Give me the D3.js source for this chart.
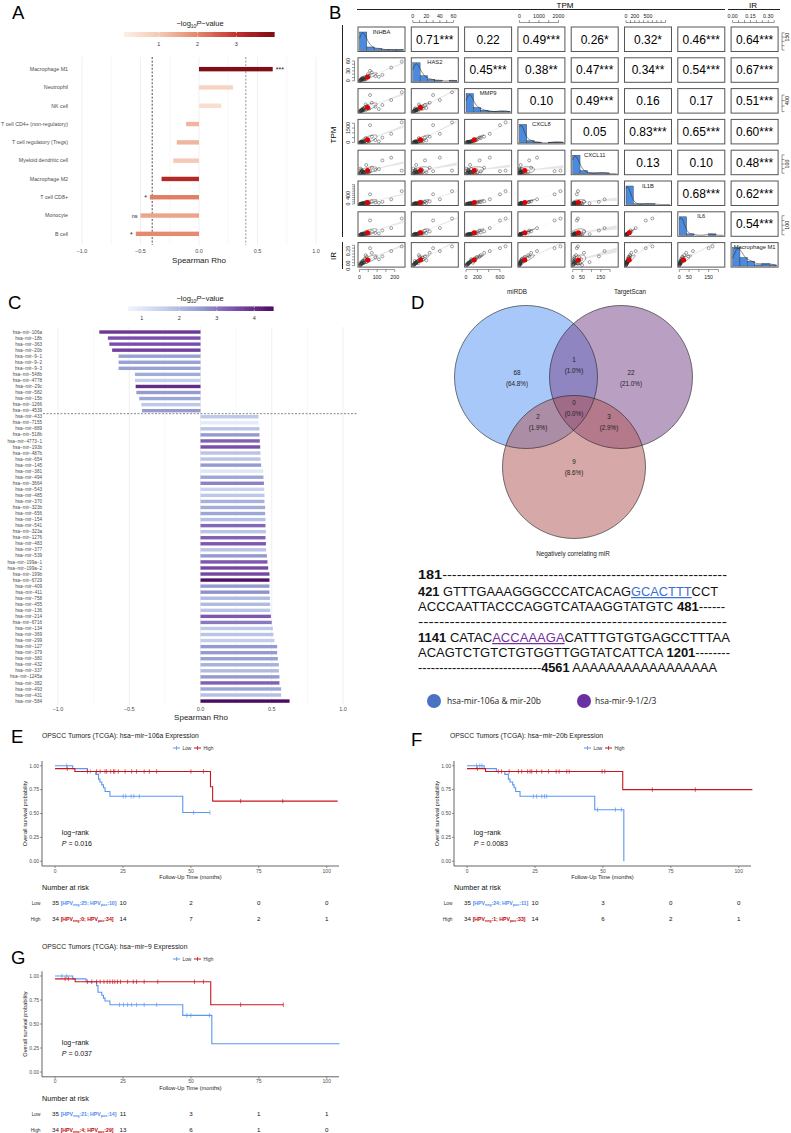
<!DOCTYPE html>
<html><head><meta charset="utf-8">
<script src="https://cdn.jsdelivr.net/npm/d3@7"></script>
<style>body{margin:0;background:#fff}svg{display:block}</style>
</head><body>
<script>
// ================= DATA =================
// Panel A
const cellTypesA = ["Macrophage M1","Neutrophil","NK cell","T cell CD4+ (non-regulatory)","T cell regulatory (Tregs)","Myeloid dendritic cell","Macrophage M2","T cell CD8+","Monocyte","B cell"];
const rhoA = [0.63,0.29,0.19,-0.11,-0.19,-0.22,-0.32,-0.42,-0.50,-0.54];
const logpA = [3.9,0.75,0.5,1.3,1.3,1.0,3.2,2.1,1.55,1.95];
const sigA = ["***","","","","","","","*","ns","*"];
const axisTicksA = [-1,-0.5,0,0.5,1];
const legendTicksA = [1,2,3];

// Panel B
const genesB = ["INHBA","HAS2","MMP9","CXCL8","CXCL11","IL1B","IL6","Macrophage M1"];
const corrRow1 = ["0.71***","0.22","0.49***","0.26*","0.32*","0.46***","0.64***"];
const corrRow2 = ["0.45***","0.38**","0.47***","0.34**","0.54***","0.67***"];
const corrRow3 = ["0.10","0.49***","0.16","0.17","0.51***"];
const corrRow4 = ["0.05","0.83***","0.65***","0.60***"];
const corrRow5 = ["0.13","0.10","0.48***"];
const corrRow6 = ["0.68***","0.62***"];
const corrRow7 = ["0.54***"];
const sINHBA = [6,12,4,20,9,15,30,8,25,14,40,18,10,55,22,35,5,48,16,28,70,12,90,38,60,130,25,180,110,240];
const sHAS2 = [2,5,1,8,3,4,12,2,6,3,10,7,4,15,5,9,1,20,6,3,25,8,14,5,30,18,4,40,12,58];
const sMMP9 = [20,60,15,90,30,40,150,25,70,45,200,80,35,110,50,260,10,130,55,95,320,40,180,70,600,240,120,420,90,700];
const sCXCL8 = [10,30,5,80,20,15,150,40,60,25,300,90,35,120,50,450,8,200,70,100,600,45,250,65,1800,500,140,900,110,2100];
const sCXCL11 = [3,10,2,15,6,25,8,4,12,30,9,5,40,14,7,18,50,11,20,6,60,16,35,90,22,140,13,170,45,28];
const sIL1B = [5,12,3,25,8,10,40,6,20,15,60,30,9,45,18,90,4,50,22,35,120,14,70,28,450,100,40,220,55,600];
const sIL6 = [1,3,1,6,2,4,10,2,5,3,15,8,3,12,4,25,1,18,6,9,35,5,20,7,150,45,11,70,14,170];
const sM1 = [0.02,0.05,0.01,0.08,0.03,0.04,0.12,0.02,0.06,0.03,0.15,0.07,0.04,0.10,0.05,0.18,0.01,0.09,0.06,0.08,0.22,0.04,0.14,0.06,0.30,0.16,0.05,0.25,0.11,0.33];
const domainsB = [[0,250],[0,65],[0,780],[0,2250],[0,235],[0,1000],[0,225],[0,0.37]];
const ticksB = [[0,50,100,150,200],[0,10,20,30,40,50,60],[0,200,400,600],[0,500,1000,1500,2000],[0,50,100,150,200],[0,100,200,300,400,500,600,700,800,900],[0,50,100,150,200],[0,0.05,0.1,0.15,0.2,0.25,0.3,0.35]];
const colLabelsB = [["0","100","200"],["0","20","40","60"],["0","200","600"],["0","1000","2000"],["0","50","150"],["0","200","500"],["0","50","150"],["0.00","0.15","0.30"]];
const rowLabelsB = [["150"],["0","30","60"],["400"],["0","1500"],["100"],["0","400"],["100"],["0.00","0.25"]];

// Panel C
const mirC = ["hsa-mir-106a","hsa-mir-18b","hsa-mir-363","hsa-mir-20b","hsa-mir-9-1","hsa-mir-9-2","hsa-mir-9-3","hsa-mir-548b","hsa-mir-4778","hsa-mir-29c","hsa-mir-582","hsa-mir-15b","hsa-mir-1266","hsa-mir-4539",
"hsa-mir-433","hsa-mir-7155","hsa-mir-889","hsa-mir-518b","hsa-mir-4773-1","hsa-mir-193b","hsa-mir-487b","hsa-mir-654","hsa-mir-145","hsa-mir-381",
"hsa-mir-494","hsa-mir-3664","hsa-mir-543","hsa-mir-485","hsa-mir-370","hsa-mir-323b","hsa-mir-656","hsa-mir-154","hsa-mir-541","hsa-mir-323a",
"hsa-mir-1276","hsa-mir-483","hsa-mir-377","hsa-mir-539","hsa-mir-199a-1","hsa-mir-199a-2","hsa-mir-199b","hsa-mir-6729","hsa-mir-409","hsa-mir-411",
"hsa-mir-758","hsa-mir-455","hsa-mir-136","hsa-mir-214","hsa-mir-6716","hsa-mir-134","hsa-mir-369","hsa-mir-299","hsa-mir-127","hsa-mir-379",
"hsa-mir-380","hsa-mir-432","hsa-mir-337","hsa-mir-1245a","hsa-mir-382","hsa-mir-493","hsa-mir-431","hsa-mir-584"];
const rhoC = [-0.71,-0.65,-0.64,-0.62,-0.575,-0.575,-0.575,-0.46,-0.46,-0.455,-0.45,-0.43,-0.415,-0.41,
0.407,0.407,0.414,0.414,0.416,0.419,0.421,0.421,0.426,0.44,
0.442,0.445,0.447,0.449,0.449,0.454,0.454,0.456,0.456,0.459,
0.456,0.459,0.461,0.466,0.47,0.475,0.484,0.484,0.484,0.484,
0.487,0.489,0.489,0.494,0.50,0.508,0.512,0.519,0.538,0.538,
0.543,0.55,0.55,0.554,0.554,0.566,0.566,0.625];
const logpC = [3.8,3.5,3.5,3.7,2.5,2.5,2.5,2.3,1.6,4.0,2.6,2.4,1.7,2.6,
1.7,0.9,1.8,2.6,3.3,3.5,1.8,1.8,2.6,1.0,
2.4,2.9,1.5,1.7,2.2,2.3,2.4,1.9,3.2,1.8,
3.3,3.4,1.8,2.6,3.4,3.6,3.6,4.4,2.6,2.7,
2.0,2.0,1.8,3.4,3.0,1.7,1.8,1.6,2.6,2.6,
2.5,2.2,2.0,2.6,3.3,2.4,1.9,4.5];
const legendTicksC = [1,2,3,4];

// Panel D
const vennSets = ["miRDB","TargetScan","Negatively correlating miR"];
const vennCounts = ["68","1","22","2","0","3","9"];
const vennPct = ["(64.8%)","(1.0%)","(21.0%)","(1.9%)","(0.0%)","(2.9%)","(8.6%)"];
const legendD = ["hsa-mir-106a & mir-20b","hsa-mir-9-1/2/3"];

// Panels E, F, G (Kaplan-Meier)
const kmTimeTicks = [0,25,50,75,100];
const kmSurvTicks = [0,0.25,0.5,0.75,1];
const eLowSteps = [[0,1],[6.5,0.97],[11.9,0.94],[15,0.91],[16,0.86],[16.5,0.83],[17.2,0.80],[17.8,0.77],[18.4,0.73],[20.2,0.68],[47,0.51]];
const eLowEnd = 57;
const eLowCens = [4.3,13,25.1,26,28,29,31,51,57];
const eHighSteps = [[0,0.97],[7.3,0.94],[57.2,0.78],[58,0.63]];
const eHighEnd = 104;
const eHighCens = [4.5,11.9,15.3,16.6,18.4,19,20.5,21.5,22,23.3,25.8,28.2,30,32.8,34.7,37.4,50,54.6,68.3,83.8];
const fLowSteps = [[0,1],[6.3,0.97],[10.8,0.94],[13.9,0.91],[15.2,0.86],[15.8,0.83],[16.8,0.80],[17.3,0.77],[17.9,0.73],[19.5,0.68],[47,0.54],[57.7,0]];
const fLowEnd = 57.7;
const fLowCens = [3.5,4.7,5.5,24.4,25.6,27.5,28.5,29.3,48,54.6,56.8];
const fHighSteps = [[0,0.97],[6.8,0.94],[57.3,0.75]];
const fHighEnd = 105;
const fHighCens = [3.8,11.5,12.7,15.5,18.9,20.1,22.3,23.2,23.8,25.6,27.5,30,32.8,33.9,36.7,37.6,49.7,50.7,68.2,84];
const gLowSteps = [[0,1],[6.5,0.97],[11.4,0.94],[15.3,0.90],[15.8,0.83],[17.2,0.80],[17.8,0.77],[18.4,0.74],[20.2,0.70],[47,0.59],[57.7,0.295]];
const gLowEnd = 104.7;
const gLowCens = [2.5,4.3,23.7,25.2,26.7,28.2,30,32.8,37.4,48.5,50,56.8];
const gHighSteps = [[0,0.97],[7.4,0.94],[57.3,0.70]];
const gHighEnd = 84;
const gHighCens = [3.7,4.9,11.9,13.5,15.3,16.6,18,19.2,20.2,21.2,22,23,24.1,26.7,28.8,30,32.8,37.8,51.3,54.6,68.3,84];
const eRiskLow = ["10","2","0","0"], eRiskHigh = ["14","7","2","1"];
const fRiskLow = ["10","3","0","0"], fRiskHigh = ["14","6","2","1"];
const gRiskLow = ["11","3","1","1"], gRiskHigh = ["13","6","1","0"];
const eHPVLow = ["35","25","10"], eHPVHigh = ["34","0","34"];
const fHPVLow = ["35","24","11"], fHPVHigh = ["34","1","33"];
const gHPVLow = ["35","21","14"], gHPVHigh = ["34","4","29"];

// ================= DRAWING =================
const FONT = "'Liberation Sans', Arial, Helvetica, sans-serif";
const svg = d3.select("body").append("svg").attr("width",791).attr("height",1133).attr("font-family",FONT);
svg.append("rect").attr("width",791).attr("height",1133).attr("fill","#fff");
const defs = svg.append("defs");
const mm = s => s.replace(/-/g,"\u2212");

function letter(t,x,y){
  svg.append("text").attr("x",x).attr("y",y).attr("font-family","'Liberation Sans', Arial, sans-serif")
    .attr("font-size",18.5).attr("fill","#000").text(t);
}
function log10Title(g,x,y,size){
  const t = g.append("text").attr("x",x).attr("y",y).attr("text-anchor","middle").attr("font-size",size).attr("fill","#222");
  t.append("tspan").text("\u2212log");
  t.append("tspan").attr("font-size",size*0.65).attr("dy",size*0.3).text("10");
  t.append("tspan").attr("font-style","italic").attr("dy",-size*0.3).text("P");
  t.append("tspan").text("\u2212value");
}
function colorbar(g,color,dom,x0,x1,y,h,ticks){
  const s = d3.scaleLinear().domain(dom).range([x0,x1]);
  const n = 80, step=(dom[1]-dom[0])/n;
  g.selectAll(null).data(d3.range(n)).join("rect")
    .attr("x",i=>s(dom[0]+i*step)).attr("y",y).attr("width",(x1-x0)/n+0.6).attr("height",h)
    .attr("fill",i=>color(dom[0]+(i+0.5)*step));
  g.selectAll(null).data(ticks).join("line").attr("x1",d=>s(d)).attr("x2",d=>s(d))
    .attr("y1",y).attr("y2",y+1.3).attr("stroke","#fff").attr("stroke-width",0.6);
  g.selectAll(null).data(ticks).join("line").attr("x1",d=>s(d)).attr("x2",d=>s(d))
    .attr("y1",y+h-1.3).attr("y2",y+h).attr("stroke","#fff").attr("stroke-width",0.6);
  g.selectAll(null).data(ticks).join("text").attr("x",d=>s(d)).attr("y",y+h+8.5)
    .attr("text-anchor","middle").attr("font-size",5.5).attr("fill","#333").text(d=>d);
}

// ---------- Panel A ----------
letter("A",12,19);
(function(){
  const g = svg.append("g");
  const x = d3.scaleLinear().domain([-1,1]).range([82,316]);
  const y = d3.scaleBand().domain(cellTypesA).range([60,243]);
  const col = d3.scaleLinear().domain([0.1,1,2,3,3.97]).range(["#fcefe8","#f5c9b4","#e4876a","#c2302d","#7d0a12"]);
  log10Title(g,200,26,7.5);
  colorbar(g,col,[0.1,3.97],124,274,32,5,legendTicksA);
  g.selectAll(null).data(d3.range(-1,1.001,0.25)).join("line")
    .attr("x1",d=>x(d)).attr("x2",d=>x(d)).attr("y1",57).attr("y2",245)
    .attr("stroke",(d,i)=>i%2?"#f2f2f2":"#e6e6e6").attr("stroke-width",0.6);
  [[-0.4,"#222"],[0.4,"#777"]].forEach(([v,c])=>{
    g.append("line").attr("x1",x(v)).attr("x2",x(v)).attr("y1",57).attr("y2",245)
      .attr("stroke",c).attr("stroke-width",0.8).attr("stroke-dasharray","2,1.6");
  });
  cellTypesA.forEach((c,i)=>{
    const yc = y(c)+y.bandwidth()/2, v=rhoA[i];
    g.append("rect").attr("x",Math.min(x(0),x(v))).attr("width",Math.abs(x(v)-x(0)))
      .attr("y",yc-2.2).attr("height",4.4).attr("fill",col(logpA[i]));
    g.append("text").attr("x",68).attr("y",yc+1.8).attr("text-anchor","end").attr("font-size",5.3).attr("fill","#4d4d4d").text(c);
    if(sigA[i]){
      const pos = v>0;
      g.append("text").attr("x",pos?x(v)+3:x(v)-3).attr("y",yc+(sigA[i]==="ns"?2:3.2))
        .attr("text-anchor",pos?"start":"end").attr("font-size",sigA[i]==="ns"?5.5:7).attr("fill","#222").text(sigA[i]);
    }
  });
  g.selectAll(null).data(axisTicksA).join("text").attr("x",d=>x(d)).attr("y",253)
    .attr("text-anchor","middle").attr("font-size",5.5).attr("fill","#4d4d4d").text(d=>mm(d3.format(".1f")(d)));
  g.append("text").attr("x",199).attr("y",263).attr("text-anchor","middle").attr("font-size",8).attr("fill","#222").text("Spearman Rho");
})();

// ---------- Panel B ----------
letter("B",329,19);
(function(){
  const g = svg.append("g");
  const samples = [sINHBA,sHAS2,sMMP9,sCXCL8,sCXCL11,sIL1B,sIL6,sM1];
  const corr = [corrRow1,corrRow2,corrRow3,corrRow4,corrRow5,corrRow6,corrRow7];
  const cw=47, ch=24.5;
  const colX = d3.range(8).map(j=>358+j*53.3);
  const rowY = d3.range(8).map(i=>27+i*30.8);
  const xs = d3.range(8).map(k=>d3.scaleLinear().domain(domainsB[k]).range([colX[k]+1.5,colX[k]+cw-1.5]));
  const ys = d3.range(8).map(k=>d3.scaleLinear().domain(domainsB[k]).range([rowY[k]+ch-1.5,rowY[k]+1.5]));
  // headers
  g.append("text").attr("x",565).attr("y",7.5).attr("text-anchor","middle").attr("font-size",8).text("TPM");
  g.append("line").attr("x1",357).attr("x2",725).attr("y1",9.5).attr("y2",9.5).attr("stroke","#222").attr("stroke-width",1);
  g.append("text").attr("x",753).attr("y",7.5).attr("text-anchor","middle").attr("font-size",8).text("IR");
  g.append("line").attr("x1",728).attr("x2",780).attr("y1",9.5).attr("y2",9.5).attr("stroke","#222").attr("stroke-width",1);
  g.append("line").attr("x1",342.5).attr("x2",342.5).attr("y1",25).attr("y2",237).attr("stroke","#222").attr("stroke-width",1);
  g.append("line").attr("x1",342.5).attr("x2",342.5).attr("y1",242).attr("y2",269).attr("stroke","#222").attr("stroke-width",1);
  g.append("text").attr("transform","translate(336,135) rotate(-90)").attr("text-anchor","middle").attr("font-size",8).text("TPM");
  g.append("text").attr("transform","translate(336,256) rotate(-90)").attr("text-anchor","middle").attr("font-size",8).text("IR");

  for(let i=0;i<8;i++){
    for(let j=0;j<8;j++){
      const cx=colX[j], cy=rowY[i];
      const cell = g.append("g");
      const clipId = "clip"+i+"_"+j;
      defs.append("clipPath").attr("id",clipId).append("rect").attr("x",cx).attr("y",cy).attr("width",cw).attr("height",ch);
      if(i===j){
        const data = samples[i], dom = domainsB[i];
        const bins = d3.bin().domain(dom).thresholds(d3.range(dom[0],dom[1],(dom[1]-dom[0])/6))(data);
        const hy = d3.scaleLinear().domain([0,d3.max(bins,b=>b.length)]).range([cy+ch-1,cy+5]);
        cell.selectAll(null).data(bins).join("rect")
          .attr("x",b=>xs[i](b.x0)).attr("width",b=>Math.max(0,xs[i](b.x1)-xs[i](b.x0)))
          .attr("y",b=>hy(b.length)).attr("height",b=>cy+ch-1-hy(b.length))
          .attr("fill","#4a8be0").attr("stroke","#333").attr("stroke-width",0.4);
        const bw = (dom[1]-dom[0])/14;
        const grid = d3.range(dom[0],dom[1]+1e-9,(dom[1]-dom[0])/60);
        const dens = grid.map(v=>[v,d3.mean(data,d=>Math.exp(-0.5*((v-d)/bw)**2))]);
        const dmax = d3.max(dens,d=>d[1]);
        const dy = d3.scaleLinear().domain([0,dmax]).range([cy+ch-1,cy+6]);
        cell.append("path").attr("d",d3.line().x(d=>xs[i](d[0])).y(d=>dy(d[1]))(dens))
          .attr("fill","none").attr("stroke","#222").attr("stroke-width",0.5).attr("clip-path","url(#"+clipId+")");
        cell.append("text").attr("x",cx+cw/2).attr("y",cy+6.5).attr("text-anchor","middle").attr("font-size",5.8).attr("fill","#222").text(genesB[i]);
      } else if(j>i){
        cell.append("text").attr("x",cx+cw/2).attr("y",cy+ch/2+4.3).attr("text-anchor","middle")
          .attr("font-size",12).attr("fill","#000").text(corr[i][j-i-1]);
      } else {
        const xd = samples[j], yd = samples[i];
        const pts = xd.map((v,k)=>[v,yd[k]]);
        const inner = cell.append("g").attr("clip-path","url(#"+clipId+")");
        const mx=d3.mean(xd), my=d3.mean(yd), sx=d3.deviation(xd), sy=d3.deviation(yd);
        const r = d3.sum(pts,p=>(p[0]-mx)*(p[1]-my))/((xd.length-1)*sx*sy);
        const slope = r*sy/sx, icpt = my-slope*mx;
        const se = sy*Math.sqrt(1-r*r)/Math.sqrt(xd.length)*0.6;
        const gx = d3.range(domainsB[j][0],domainsB[j][1]*1.001,(domainsB[j][1]-domainsB[j][0])/30);
        const band = gx.map(v=>{const w=se*Math.sqrt(1+((v-mx)/sx)**2);return [v,icpt+slope*v-w,icpt+slope*v+w];});
        inner.append("path").attr("d",d3.area().x(d=>xs[j](d[0])).y0(d=>ys[i](d[1])).y1(d=>ys[i](d[2]))(band))
          .attr("fill","#d6d6d6").attr("opacity",0.6);
        inner.selectAll(null).data(pts).join("circle").attr("cx",p=>xs[j](p[0])).attr("cy",p=>ys[i](p[1]))
          .attr("r",1.5).attr("fill","none").attr("stroke","#333").attr("stroke-width",0.45);
        const ell = d3.range(0,2*Math.PI+0.01,Math.PI/30).map(t=>[mx+sx*Math.cos(t),my+sy*Math.cos(t+Math.acos(Math.max(-1,Math.min(1,r))))]);
        inner.append("path").attr("d",d3.line().x(d=>xs[j](d[0])).y(d=>ys[i](d[1])).curve(d3.curveLinearClosed)(ell))
          .attr("fill","none").attr("stroke","#333").attr("stroke-width",0.45);
        inner.append("path").attr("d",d3.line().x(d=>xs[j](d[0])).y(d=>ys[i](icpt+slope*d[0]))(gx))
          .attr("fill","none").attr("stroke","#e0453e").attr("stroke-width",0.7);
        inner.append("circle").attr("cx",xs[j](mx)).attr("cy",ys[i](my)).attr("r",2.5).attr("fill","#e00000");
      }
      cell.append("rect").attr("x",cx).attr("y",cy).attr("width",cw).attr("height",ch)
        .attr("fill","none").attr("stroke","#555").attr("stroke-width",1);
    }
  }
  for(let k=0;k<8;k++){
    const tk = ticksB[k];
    if(k%2===1){
      const yA=22.5;
      g.append("line").attr("x1",xs[k](tk[0])).attr("x2",xs[k](tk[tk.length-1])).attr("y1",yA).attr("y2",yA).attr("stroke","#333").attr("stroke-width",0.5);
      g.selectAll(null).data(tk).join("line").attr("x1",d=>xs[k](d)).attr("x2",d=>xs[k](d)).attr("y1",yA).attr("y2",yA-2.5).attr("stroke","#333").attr("stroke-width",0.5);
      g.selectAll(null).data(colLabelsB[k]).join("text").attr("x",d=>xs[k](+d)).attr("y",18).attr("text-anchor","middle").attr("font-size",5.3).attr("fill","#222").text(d=>d);
    } else {
      const yA=269.5;
      g.append("line").attr("x1",xs[k](tk[0])).attr("x2",xs[k](tk[tk.length-1])).attr("y1",yA).attr("y2",yA).attr("stroke","#333").attr("stroke-width",0.5);
      g.selectAll(null).data(tk).join("line").attr("x1",d=>xs[k](d)).attr("x2",d=>xs[k](d)).attr("y1",yA).attr("y2",yA+2.5).attr("stroke","#333").attr("stroke-width",0.5);
      g.selectAll(null).data(colLabelsB[k]).join("text").attr("x",d=>xs[k](+d)).attr("y",279).attr("text-anchor","middle").attr("font-size",5.3).attr("fill","#222").text(d=>d);
    }
    if(k%2===0){
      const xA=782;
      g.append("line").attr("x1",xA).attr("x2",xA).attr("y1",ys[k](tk[0])).attr("y2",ys[k](tk[tk.length-1])).attr("stroke","#333").attr("stroke-width",0.5);
      g.selectAll(null).data(tk).join("line").attr("y1",d=>ys[k](d)).attr("y2",d=>ys[k](d)).attr("x1",xA).attr("x2",xA+2.5).attr("stroke","#333").attr("stroke-width",0.5);
      g.selectAll(null).data(rowLabelsB[k]).join("text").attr("transform",d=>"translate(789,"+ys[k](+d)+") rotate(-90)").attr("text-anchor","middle").attr("font-size",5.3).attr("fill","#222").text(d=>d);
    } else {
      const xA=354.5;
      g.append("line").attr("x1",xA).attr("x2",xA).attr("y1",ys[k](tk[0])).attr("y2",ys[k](tk[tk.length-1])).attr("stroke","#333").attr("stroke-width",0.5);
      g.selectAll(null).data(tk).join("line").attr("y1",d=>ys[k](d)).attr("y2",d=>ys[k](d)).attr("x1",xA).attr("x2",xA-2.5).attr("stroke","#333").attr("stroke-width",0.5);
      g.selectAll(null).data(rowLabelsB[k]).join("text").attr("transform",d=>"translate(350,"+ys[k](+d)+") rotate(-90)").attr("text-anchor","middle").attr("font-size",5.3).attr("fill","#222").text(d=>d);
    }
  }
})();

// ---------- Panel C ----------
letter("C",8,309);
(function(){
  const g = svg.append("g");
  const x = d3.scaleLinear().domain([-1,1]).range([58,343]);
  const y = d3.scaleBand().domain(mirC).range([329,704.1]);
  const col = d3.scaleLinear().domain([0.63,1.5,2.5,3.5,4.5]).range(["#f1f4fb","#c8d3ee","#98a2d4","#7a4fac","#4c0a60"]);
  log10Title(g,200,301,7.5);
  colorbar(g,col,[0.63,4.5],128,273,306.5,4.5,legendTicksC);
  g.selectAll(null).data(d3.range(-1,1.001,0.25)).join("line")
    .attr("x1",d=>x(d)).attr("x2",d=>x(d)).attr("y1",327).attr("y2",705)
    .attr("stroke",(d,i)=>i%2?"#f2f2f2":"#e6e6e6").attr("stroke-width",0.6);
  mirC.forEach((m,i)=>{
    const yc=y(m)+y.bandwidth()/2, v=rhoC[i];
    g.append("rect").attr("x",Math.min(x(0),x(v))).attr("width",Math.abs(x(v)-x(0)))
      .attr("y",yc-1.7).attr("height",3.4).attr("fill",col(logpC[i]));
    g.append("text").attr("x",42).attr("y",yc+1.6).attr("text-anchor","end").attr("font-size",4.6).attr("fill","#4d4d4d").text(mm(m));
  });
  const ySplit = y(mirC[14]);
  g.append("line").attr("x1",43).attr("x2",358).attr("y1",ySplit).attr("y2",ySplit)
    .attr("stroke","#555").attr("stroke-width",0.7).attr("stroke-dasharray","2,1.5");
  g.selectAll(null).data(axisTicksA).join("text").attr("x",d=>x(d)).attr("y",711)
    .attr("text-anchor","middle").attr("font-size",5.5).attr("fill","#4d4d4d").text(d=>mm(d3.format(".1f")(d)));
  g.append("text").attr("x",201).attr("y",719.5).attr("text-anchor","middle").attr("font-size",8).attr("fill","#222").text("Spearman Rho");
})();

// ---------- Panel D ----------
letter("D",411,309);
(function(){
  const g = svg.append("g");
  const circ = [[526,377,"#5191f5"],[621,377,"#734187"],[574,467,"#af5151"]];
  g.selectAll(null).data(circ).join("circle").attr("cx",d=>d[0]).attr("cy",d=>d[1]).attr("r",71.5)
    .attr("fill",d=>d[2]).attr("fill-opacity",0.5);
  g.selectAll(null).data(circ).join("circle").attr("cx",d=>d[0]).attr("cy",d=>d[1]).attr("r",71.5)
    .attr("fill","none").attr("stroke","#222").attr("stroke-width",0.6);
  const lblPos = [[517,373],[574,360],[631,373],[538,417],[574,403],[609,417],[574,462]];
  vennCounts.forEach((c,i)=>{
    g.append("text").attr("x",lblPos[i][0]).attr("y",lblPos[i][1]+2).attr("text-anchor","middle").attr("font-size",6.3).attr("fill","#222").text(c);
    g.append("text").attr("x",lblPos[i][0]).attr("y",lblPos[i][1]+13).attr("text-anchor","middle").attr("font-size",6.3).attr("fill","#222").text(vennPct[i]);
  });
  const setPos = [[517,294],[630,294],[573,556]];
  vennSets.forEach((s,i)=>g.append("text").attr("x",setPos[i][0]).attr("y",setPos[i][1]).attr("text-anchor","middle").attr("font-size",6.3).attr("fill","#222").text(s));

  const lines = [
    {y:579, w:309, parts:[["181",1],["-----------------------------------------------------------",0]]},
    {y:596, w:300, parts:[["421",1],[" GTTTGAAAGGGCCCATCACAG",0],["GCACTTT",2],["CCT",0]]},
    {y:611, w:307, parts:[["ACCCAATTACCCAGGTCATAAGGTATGTC ",0],["481",1],["------",0]]},
    {y:626, w:309, parts:[["-----------------------------------------------------------",0]]},
    {y:642, w:312, parts:[["1141",1],[" CATAC",0],["ACCAAAGA",3],["CATTTGTGTGAGCCTTTAA",0]]},
    {y:657, w:312, parts:[["ACAGTCTGTCTGTGGTTGGTATCATTCA ",0],["1201",1],["--------",0]]},
    {y:672, w:299, parts:[["-----------------------------",0],["4561",1],[" AAAAAAAAAAAAAAAAA",0]]}
  ];
  lines.forEach(L=>{
    const t = g.append("text").attr("x",418).attr("y",L.y).attr("font-size",12.5).attr("fill","#111")
      .attr("textLength",L.w).attr("lengthAdjust","spacingAndGlyphs");
    L.parts.forEach(([s,k])=>{
      const sp = t.append("tspan").text(s);
      if(k===1) sp.attr("font-weight","bold");
      if(k===2) sp.attr("fill","#3b6fd2").attr("text-decoration","underline");
      if(k===3) sp.attr("fill","#7030a0").attr("text-decoration","underline");
    });
  });
  g.append("circle").attr("cx",434).attr("cy",701).attr("r",7).attr("fill","#4a72c4");
  g.append("text").attr("x",447).attr("y",704).attr("font-size",8.5).attr("font-family","'Open Sans', sans-serif").attr("fill","#222").text(legendD[0]);
  g.append("circle").attr("cx",584).attr("cy",701).attr("r",7).attr("fill","#6a2fa0");
  g.append("text").attr("x",595).attr("y",704).attr("font-size",8.5).attr("font-family","'Open Sans', sans-serif").attr("fill","#222").text(legendD[1]);
})();

// ---------- KM panels ----------
const BLUE="#5a97f2", RED="#c7161e";
function kmPanel(o){
  const g = svg.append("g");
  const x = d3.scaleLinear().domain([-4.8,104.5]).range([o.xl,o.xr]);
  const y = d3.scaleLinear().domain([-0.05,1.05]).range([o.yb,o.yt]);
  g.append("text").attr("x",o.titleX).attr("y",o.titleY).attr("font-size",6.8).attr("fill","#222").text(o.title);
  const lx = o.legX, ly = o.legY;
  [[BLUE,"Low",0],[RED,"High",21]].forEach(([c,t,dx])=>{
    g.append("line").attr("x1",lx+dx).attr("x2",lx+dx+7).attr("y1",ly).attr("y2",ly).attr("stroke",c).attr("stroke-width",1);
    g.append("line").attr("x1",lx+dx+3.5).attr("x2",lx+dx+3.5).attr("y1",ly-2).attr("y2",ly+2).attr("stroke",c).attr("stroke-width",0.8);
    g.append("text").attr("x",lx+dx+9.5).attr("y",ly+1.7).attr("font-size",4.8).attr("fill","#333").text(t);
  });
  g.append("line").attr("x1",o.xl).attr("x2",o.xl).attr("y1",o.yt).attr("y2",o.yb).attr("stroke","#222").attr("stroke-width",0.7);
  g.append("line").attr("x1",o.xl).attr("x2",o.xr).attr("y1",o.yb).attr("y2",o.yb).attr("stroke","#222").attr("stroke-width",0.7);
  g.selectAll(null).data(kmSurvTicks).join("line").attr("x1",o.xl-2).attr("x2",o.xl).attr("y1",d=>y(d)).attr("y2",d=>y(d)).attr("stroke","#333").attr("stroke-width",0.5);
  g.selectAll(null).data(kmSurvTicks).join("text").attr("x",o.xl-3).attr("y",d=>y(d)+1.8).attr("text-anchor","end").attr("font-size",5).attr("fill","#4d4d4d").text(d=>d3.format(".2f")(d));
  g.selectAll(null).data(kmTimeTicks).join("line").attr("x1",d=>x(d)).attr("x2",d=>x(d)).attr("y1",o.yb).attr("y2",o.yb+2).attr("stroke","#333").attr("stroke-width",0.5);
  g.selectAll(null).data(kmTimeTicks).join("text").attr("x",d=>x(d)).attr("y",o.yb+6.5).attr("text-anchor","middle").attr("font-size",5).attr("fill","#4d4d4d").text(d=>d);
  g.append("text").attr("x",(o.xl+o.xr)/2).attr("y",o.yb+13).attr("text-anchor","middle").attr("font-size",5.6).attr("fill","#222").text("Follow-Up Time (months)");
  g.append("text").attr("transform","translate("+(o.xl-15.5)+","+((o.yt+o.yb)/2)+") rotate(-90)").attr("text-anchor","middle").attr("font-size",5.6).attr("fill","#222").text("Overall survival probability");
  function curve(steps,end,cens,c){
    const pts=[[steps[0][0],steps[0][1]]];
    for(let k=1;k<steps.length;k++){pts.push([steps[k][0],steps[k-1][1]]);pts.push([steps[k][0],steps[k][1]]);}
    pts.push([end,steps[steps.length-1][1]]);
    g.append("path").attr("d",d3.line().x(d=>x(d[0])).y(d=>y(d[1]))(pts)).attr("fill","none").attr("stroke",c).attr("stroke-width",1.1);
    const sAt = t=>{let s=steps[0][1];steps.forEach(st=>{if(st[0]<=t)s=st[1];});return s;};
    g.selectAll(null).data(cens).join("line").attr("x1",d=>x(d)).attr("x2",d=>x(d))
      .attr("y1",d=>y(sAt(d))-2.2).attr("y2",d=>y(sAt(d))+2.2).attr("stroke",c).attr("stroke-width",0.7);
  }
  curve(o.lowSteps,o.lowEnd,o.lowCens,BLUE);
  curve(o.highSteps,o.highEnd,o.highCens,RED);
  g.append("text").attr("x",x(2.5)).attr("y",o.lrY).attr("font-size",7).attr("fill","#111").text("log\u2212rank");
  const p = g.append("text").attr("x",x(2.5)).attr("y",o.lrY+11).attr("font-size",7).attr("fill","#111");
  p.append("tspan").attr("font-style","italic").text("P");
  p.append("tspan").text(" = "+o.pval);
  g.append("text").attr("x",o.xl).attr("y",o.riskY).attr("font-size",7.2).attr("fill","#111").text("Number at risk");
  [[o.riskY+15.5,"Low",o.hpvLow,o.riskLow,"#4b8bef"],[o.riskY+31.5,"High",o.hpvHigh,o.riskHigh,"#c00000"]].forEach(([ry,lab,hpv,nums,c])=>{
    g.append("text").attr("x",o.xl-1.5).attr("y",ry).attr("text-anchor","end").attr("font-size",4.8).attr("fill","#333").text(lab);
    const t = g.append("text").attr("x",x(0)-3).attr("y",ry).attr("font-size",6.2).attr("fill","#111");
    t.append("tspan").text(hpv[0]+" ");
    const b = t.append("tspan").attr("fill",c).attr("font-weight","bold").attr("font-size",5.2);
    b.append("tspan").text("[HPV");
    b.append("tspan").attr("font-size",3.6).attr("dy",1.2).text("neg");
    b.append("tspan").attr("dy",-1.2).text(":"+hpv[1]+"; HPV");
    b.append("tspan").attr("font-size",3.6).attr("dy",1.2).text("pos");
    b.append("tspan").attr("dy",-1.2).text(":"+hpv[2]+"]");
    g.selectAll(null).data(nums).join("text").attr("x",(d,i)=>x(kmTimeTicks[i+1])).attr("y",ry)
      .attr("text-anchor","middle").attr("font-size",6.2).attr("fill","#111").text(d=>d);
  });
}
letter("E",11,743);
kmPanel({xl:42,xr:339,yb:866,yt:761,title:"OPSCC Tumors (TCGA): hsa\u2212mir\u2212106a Expression",titleX:42,titleY:737.5,legX:173,legY:748,
  lowSteps:eLowSteps,lowEnd:eLowEnd,lowCens:eLowCens,highSteps:eHighSteps,highEnd:eHighEnd,highCens:eHighCens,
  lrY:835,pval:"0.016",riskY:889.5,hpvLow:eHPVLow,hpvHigh:eHPVHigh,riskLow:eRiskLow,riskHigh:eRiskHigh});
letter("F",411,746);
kmPanel({xl:454,xr:751,yb:866,yt:761,title:"OPSCC Tumors (TCGA): hsa\u2212mir\u221220b Expression",titleX:450,titleY:737.5,legX:584,legY:748,
  lowSteps:fLowSteps,lowEnd:fLowEnd,lowCens:fLowCens,highSteps:fHighSteps,highEnd:fHighEnd,highCens:fHighCens,
  lrY:835,pval:"0.0083",riskY:889.5,hpvLow:fHPVLow,hpvHigh:fHPVHigh,riskLow:fRiskLow,riskHigh:fRiskHigh});
letter("G",11,964);
kmPanel({xl:42,xr:339,yb:1076.8,yt:971.2,title:"OPSCC Tumors (TCGA): hsa\u2212mir\u22129 Expression",titleX:42,titleY:948.5,legX:173,legY:959,
  lowSteps:gLowSteps,lowEnd:gLowEnd,lowCens:gLowCens,highSteps:gHighSteps,highEnd:gHighEnd,highCens:gHighCens,
  lrY:1045,pval:"0.037",riskY:1100.5,hpvLow:gHPVLow,hpvHigh:gHPVHigh,riskLow:gRiskLow,riskHigh:gRiskHigh});
</script>
</body></html>
